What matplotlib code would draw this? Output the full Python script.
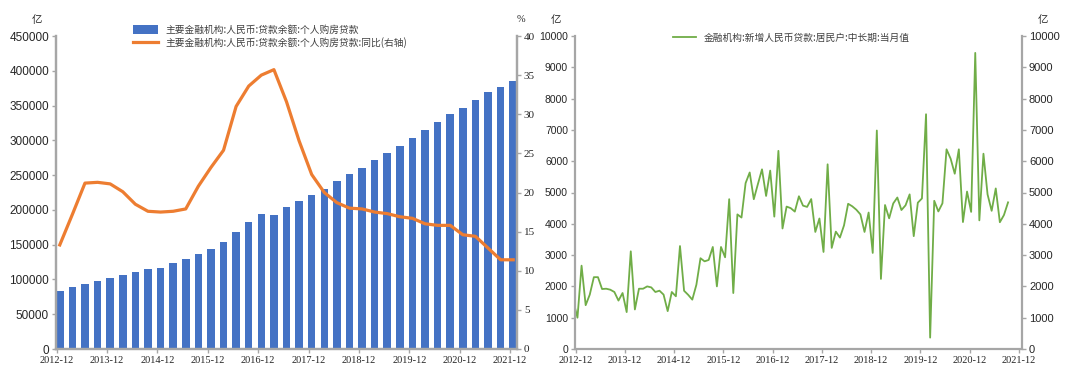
import matplotlib.pyplot as plt
import numpy as np

plt.rcParams['font.family'] = ['Noto Sans CJK SC', 'DejaVu Sans']

# left chart: quarterly, 2012-12 .. 2021-12
balance = [83300, 88600, 93800, 97100, 101900, 105700, 110000, 114800, 117100,
           123300, 129500, 136700, 143800, 154300, 167600, 181900, 194800, 192400,
           204300, 212900, 221900, 230500, 241000, 251400, 260500, 271900, 282400,
           292400, 302900, 314800, 326200, 338100, 347100, 358600, 369000, 376200,
           385200]
yoy = [13.3, 17.2, 21.2, 21.3, 21.1, 20.1, 18.5, 17.6, 17.5, 17.6, 17.9, 20.8,
       23.2, 25.4, 31.0, 33.6, 35.0, 35.7, 31.6, 26.6, 22.3, 20.0, 18.7, 18.0,
       17.9, 17.5, 17.3, 16.9, 16.7, 16.0, 15.8, 15.8, 14.6, 14.4, 12.9, 11.4, 11.4]

# right chart: monthly, 2012-11 .. 2021-09
new_loans = [1530, 1000, 2663, 1400, 1737, 2295, 2295, 1916, 1926, 1895, 1821, 1547,
             1789, 1179, 3120, 1263, 1926, 1926, 2000, 1968, 1821, 1863, 1737, 1210,
             1821, 1684, 3290, 1860, 1730, 1577, 2053, 2900, 2800, 2845, 3260, 2000,
             3260, 2930, 4786, 1788, 4300, 4200, 5300, 5640, 4786, 5270, 5740, 4890,
             5700, 4230, 6330, 3850, 4550, 4500, 4390, 4880, 4580, 4540, 4790, 3740,
             4170, 3100, 5900, 3230, 3750, 3560, 3950, 4640, 4560, 4450, 4300, 3740,
             4360, 3070, 6980, 2240, 4600, 4175, 4650, 4840, 4440, 4590, 4940, 3605,
             4675, 4810, 7500, 364, 4735, 4395, 4655, 6380, 6080, 5600, 6380, 4055,
             5030, 4380, 9460, 4110, 6240, 4940, 4415, 5130, 4050, 4280, 4685]
year_labels = ['2012-12', '2013-12', '2014-12', '2015-12', '2016-12',
               '2017-12', '2018-12', '2019-12', '2020-12', '2021-12']

bar_label = '主要金融机构:人民币:贷款余额:个人购房贷款'
line_label = '主要金融机构:人民币:贷款余额:个人购房贷款:同比(右轴)'
green_label = '金融机构:新增人民币贷款:居民户:中长期:当月值'

BLUE = '#4472C4'
ORANGE = '#ED7D31'
GREEN = '#70AD47'
SPINE = '#A6A6A6'
TXT = '#262626'
SERIF = 'Liberation Serif'
SANS = 'Liberation Sans'


def style_axis(ax, sides):
    for s in ['top', 'left', 'right', 'bottom']:
        ax.spines[s].set_visible(s in sides)
        ax.spines[s].set_color(SPINE)
        ax.spines[s].set_linewidth(1.6)
    ax.tick_params(colors=SPINE, labelcolor=TXT, length=3, width=1,
                   direction='out', pad=2)


fig = plt.figure(figsize=(10.8, 3.89), dpi=100)

# ---------------- left chart ----------------
ax1 = fig.add_axes([56 / 1080, 1 - 349 / 389, (517 - 56) / 1080, (349 - 36) / 389])
xq = np.arange(len(balance))
ax1.bar(xq, balance, width=0.6, color=BLUE, label=bar_label, zorder=2)
ax1.set_xlim(-0.3, len(balance) - 0.7)
ax1.set_ylim(0, 450000)
ax1.set_yticks(np.arange(0, 450001, 50000))
ax1.set_xticks(np.arange(0, 37, 4) - 0.25)
ax1.set_xticklabels(year_labels, fontsize=7.5, family=SERIF)
for t in ax1.get_yticklabels():
    t.set_family(SANS)
    t.set_fontsize(8.5)
style_axis(ax1, ['left', 'bottom', 'right'])

ax1b = ax1.twinx()
ax1b.plot(xq, yoy, color=ORANGE, lw=2.3, label=line_label, zorder=3)
ax1b.set_ylim(0, 40)
ax1b.set_yticks(np.arange(0, 41, 5))
for t in ax1b.get_yticklabels():
    t.set_family(SERIF)
    t.set_fontsize(8)
style_axis(ax1b, ['left', 'bottom', 'right'])

h1, l1 = ax1.get_legend_handles_labels()
h2, l2 = ax1b.get_legend_handles_labels()
fig.legend(h1 + h2, l1 + l2, loc='upper left', bbox_to_anchor=(128 / 1080, 1 - 20 / 389),
           frameon=False, fontsize=7, handlelength=2.6, handleheight=0.9,
           labelspacing=0.25, borderpad=0, labelcolor='#404040')

fig.text(37 / 1080, 1 - 20 / 389, '亿', fontsize=7.5, color=TXT, ha='center', va='center')
fig.text(521 / 1080, 1 - 20 / 389, '%', fontsize=7.5, color=TXT, ha='center', va='center',
         family=SERIF)

# ---------------- right chart ----------------
ax2 = fig.add_axes([575 / 1080, 1 - 349 / 389, (1022 - 575) / 1080, (349 - 36) / 389])
xm = np.arange(-1, len(new_loans) - 1)
ax2.plot(xm, new_loans, color=GREEN, lw=1.3, label=green_label)
ax2.set_xlim(-0.6, 108.4)
ax2.set_ylim(0, 10000)
ax2.set_yticks(np.arange(0, 10001, 1000))
ax2.set_xticks(np.arange(0, 109, 12) - 0.4)
ax2.set_xticklabels(year_labels, fontsize=7.5, family=SERIF)
style_axis(ax2, ['left', 'bottom', 'right'])
ax2.tick_params(axis='y', right=True, labelright=True)
for t in ax2.get_yticklabels(which='both'):
    t.set_family(SANS)
    t.set_fontsize(7.5)
for t in ax2.yaxis.get_ticklabels(minor=False):
    t.set_family(SANS)
for tick in ax2.yaxis.get_major_ticks():
    tick.label2.set_family(SANS)
    tick.label2.set_fontsize(8)

ax2.legend(loc='upper left', bbox_to_anchor=(668 / 1080, 1 - 28 / 389),
           bbox_transform=fig.transFigure, frameon=False, fontsize=7,
           handlelength=2.4, borderpad=0, labelcolor='#404040')

fig.text(556 / 1080, 1 - 20 / 389, '亿', fontsize=7.5, color=TXT, ha='center', va='center')
fig.text(1043 / 1080, 1 - 20 / 389, '亿', fontsize=7.5, color=TXT, ha='center', va='center')

fig.savefig('out.png', dpi=100, facecolor='white')
